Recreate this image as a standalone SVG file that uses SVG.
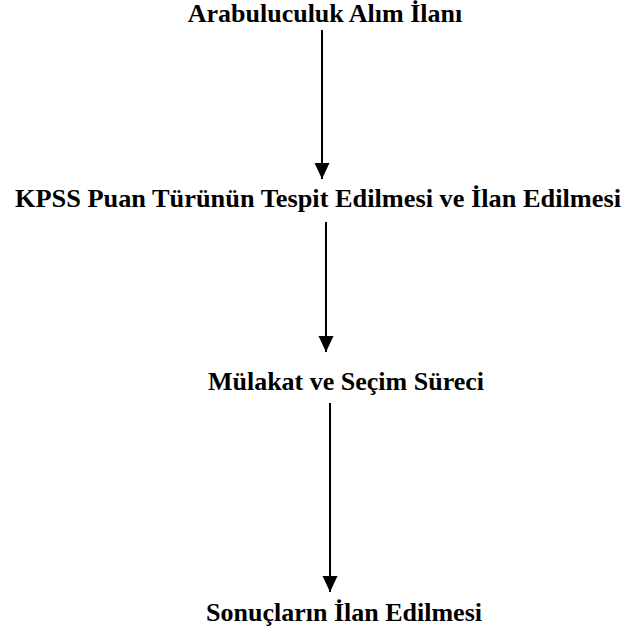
<svg xmlns="http://www.w3.org/2000/svg" width="632" height="630" viewBox="0 0 632 630">
<style>
.t{font-family:"Liberation Serif","Times New Roman",serif;font-weight:bold;font-size:26px;fill:#000;text-anchor:middle}
.c{stroke:#000;stroke-width:2;fill:none}
</style>
<defs>
<marker id="a2" markerUnits="userSpaceOnUse" markerWidth="16" markerHeight="16" refX="16" refY="7.5" orient="auto" viewBox="0 0 16 15">
<path d="M0,0 L16,7.5 L0,15 Z" fill="#000"/>
</marker>
</defs>
<rect width="632" height="630" fill="#fff"/>
<g id="n1"><text class="t" x="325" y="22">Arabuluculuk Alım İlanı</text></g>
<g id="n2"><text class="t" x="318" y="207" textLength="606" lengthAdjust="spacingAndGlyphs">KPSS Puan Türünün Tespit Edilmesi ve İlan Edilmesi</text></g>
<g id="n3"><text class="t" x="346" y="390">Mülakat ve Seçim Süreci</text></g>
<g id="n4"><text class="t" x="344" y="621">Sonuçların İlan Edilmesi</text></g>
<g id="connectors">
<line class="c" x1="322" y1="30" x2="322" y2="179" marker-end="url(#a2)"/>
<line class="c" x1="326" y1="222" x2="326" y2="352" marker-end="url(#a2)"/>
<line class="c" x1="330" y1="403" x2="330" y2="592" marker-end="url(#a2)"/>
</g>
</svg>
